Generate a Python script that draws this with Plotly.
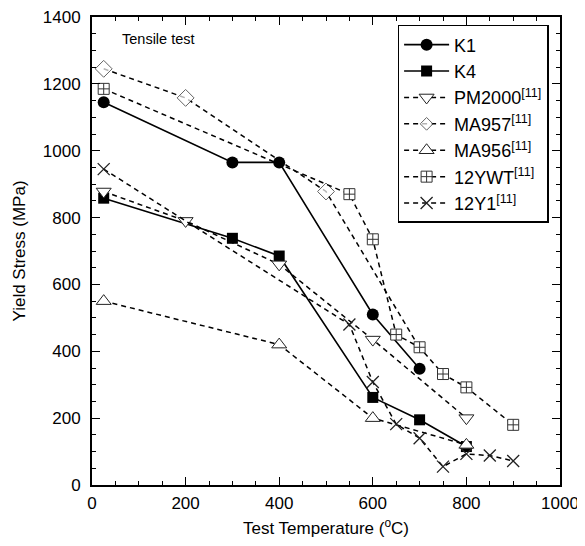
import plotly.graph_objects as go

# ---- data ----
k1_x = [25, 300, 400, 600, 700]
k1_y = [1145, 965, 965, 510, 348]

k4_x = [25, 300, 400, 600, 700, 800]
k4_y = [858, 738, 685, 262, 195, 115]

pm2000_x = [25, 200, 400, 600, 800]
pm2000_y = [878, 790, 660, 435, 200]

ma957_x = [25, 200, 500, 700]
ma957_y = [1245, 1158, 878, 410]

ma956_x = [25, 400, 600, 800]
ma956_y = [550, 420, 200, 120]

ywt_x = [25, 550, 600, 650, 700, 750, 800, 900]
ywt_y = [1185, 870, 735, 450, 412, 332, 292, 180]

y1_x = [25, 550, 600, 650, 700, 750, 800, 850, 900]
y1_y = [945, 480, 308, 182, 140, 55, 93, 88, 72]

names = ["K1", "K4", "PM2000<sup>[11]</sup>", "MA957<sup>[11]</sup>",
         "MA956<sup>[11]</sup>", "12YWT<sup>[11]</sup>", "12Y1<sup>[11]</sup>"]

x_ticks = [0, 200, 400, 600, 800, 1000]
y_ticks = [0, 200, 400, 600, 800, 1000, 1200, 1400]

FONT = "Liberation Sans, Arial, sans-serif"
DASH = "5px,4px"

fig = go.Figure()

fig.add_trace(go.Scatter(x=k1_x, y=k1_y, name=names[0], mode="lines+markers",
                         line=dict(color="black", width=1.6),
                         marker=dict(symbol="circle", size=12, color="black")))
fig.add_trace(go.Scatter(x=k4_x, y=k4_y, name=names[1], mode="lines+markers",
                         line=dict(color="black", width=1.6),
                         marker=dict(symbol="square", size=11, color="black")))
fig.add_trace(go.Scatter(x=pm2000_x, y=pm2000_y, name=names[2], mode="lines+markers",
                         line=dict(color="black", width=1.5, dash=DASH),
                         marker=dict(symbol="triangle-down", size=13, color="white",
                                     line=dict(color="#222", width=1))))
fig.add_trace(go.Scatter(x=ma957_x, y=ma957_y, name=names[3], mode="lines+markers",
                         line=dict(color="black", width=1.5, dash=DASH),
                         marker=dict(symbol="diamond", size=[13, 13, 13, 0], color="white",
                                     line=dict(color="#222", width=1))))
fig.add_trace(go.Scatter(x=ma956_x, y=ma956_y, name=names[4], mode="lines+markers",
                         line=dict(color="black", width=1.5, dash=DASH),
                         marker=dict(symbol="triangle-up", size=13, color="white",
                                     line=dict(color="#222", width=1))))
fig.add_trace(go.Scatter(x=ywt_x, y=ywt_y, name=names[5], mode="lines+markers",
                         line=dict(color="black", width=1.5, dash=DASH),
                         marker=dict(symbol="square-cross", size=11, color="white",
                                     line=dict(color="#333", width=1))))
fig.add_trace(go.Scatter(x=y1_x, y=y1_y, name=names[6], mode="lines+markers",
                         line=dict(color="black", width=1.5, dash=DASH),
                         marker=dict(symbol="x-thin", size=12,
                                     line=dict(color="#222", width=1.3))))

axis_common = dict(
    showgrid=False, zeroline=False, showline=True, linecolor="black", linewidth=2,
    mirror="ticks", ticks="inside", ticklen=8, tickwidth=1.2, tickcolor="black",
    tickfont=dict(family=FONT, size=17, color="black"), automargin=False,
    ticklabeloverflow="allow",
)

fig.update_xaxes(range=[0, 1000.01], tickvals=x_ticks, ticklabelstandoff=2,
                 minor=dict(ticks="inside", dtick=50, ticklen=4, tickcolor="black"),
                 title=dict(text="Test Temperature (<sup>o</sup>C)",
                            font=dict(family=FONT, size=17, color="black"), standoff=10),
                 **axis_common)
fig.update_yaxes(range=[0, 1400.01], tickvals=y_ticks, ticklabelstandoff=6,
                 minor=dict(ticks="inside", dtick=50, ticklen=4, tickcolor="black"),
                 title=dict(text="Yield Stress (MPa)",
                            font=dict(family=FONT, size=17, color="black"), standoff=13),
                 **axis_common)

fig.add_annotation(x=0.06, y=0.953, xref="paper", yref="paper", xanchor="left",
                   yanchor="middle", showarrow=False, text="Tensile test",
                   font=dict(family=FONT, size=14.5, color="black"))

# the page body adds an 8px offset, so the figure is sized to fit within it
fig.update_layout(
    width=577, height=538,
    margin=dict(l=84, r=25, t=9, b=61),
    paper_bgcolor="white", plot_bgcolor="white",
    showlegend=True,
    legend=dict(x=0.653, y=0.983, xanchor="left", yanchor="top",
                bgcolor="white", bordercolor="black", borderwidth=1.5,
                font=dict(family=FONT, size=18, color="black"),
                itemwidth=45, tracegroupgap=0),
)

fig.write_html("out.html")
